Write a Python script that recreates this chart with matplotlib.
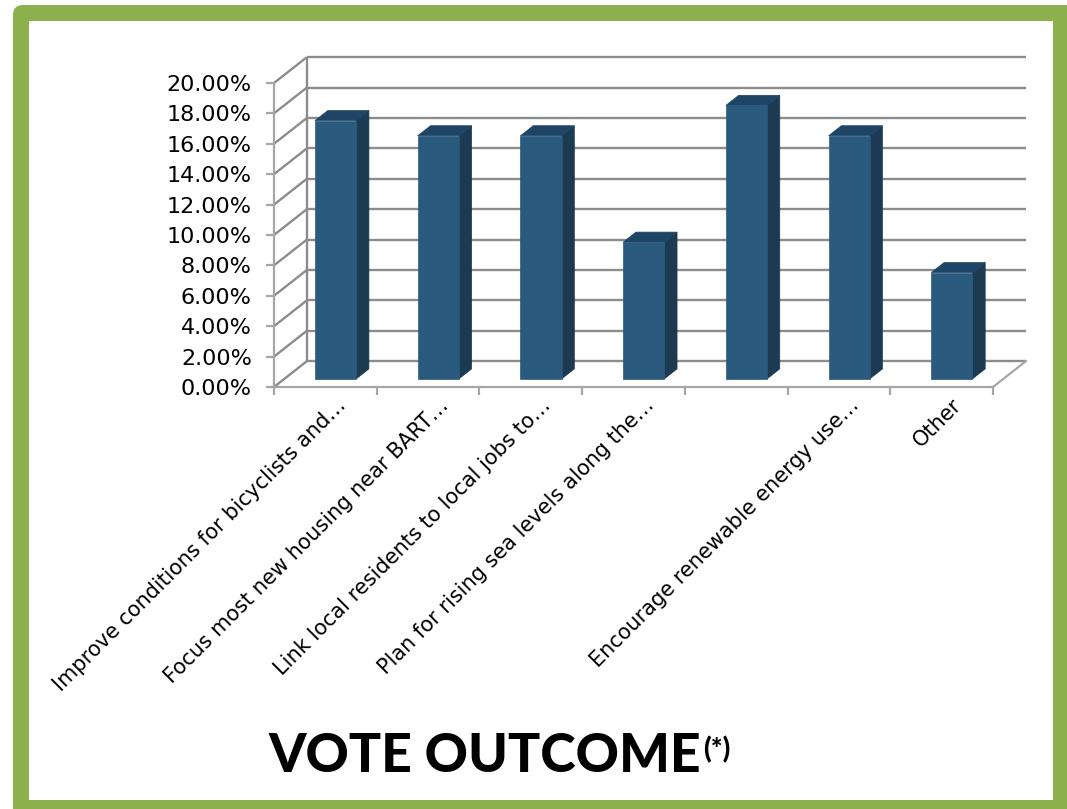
import matplotlib.pyplot as plt
from matplotlib.patches import Polygon, FancyBboxPatch, Rectangle
from matplotlib.transforms import ScaledTranslation, IdentityTransform

# survey results
categories = [
    "Improve conditions for bicyclists and\u2026",
    "Focus most new housing near BART\u2026",
    "Link local residents to local jobs to\u2026",
    "Plan for rising sea levels along the\u2026",
    "",
    "Encourage renewable energy use\u2026",
    "Other",
]
shares = [17, 16, 16, 9, 18, 16, 7]
y_ticks = list(range(0, 21, 2))
y_tick_labels = ["%.2f%%" % v for v in y_ticks]

W, H = 1067, 809
FONT = "DejaVu Sans"
GRID = "#8c8c8c"
AXIS = "#a6a6a6"
FRONT = "#2a5b7e"
SIDE = "#1c3a52"
TOP = "#1f4566"

# oblique depth of the floor, in data units
DX, DY = 0.32, 1.7
Z0, Z1 = 0.31, 0.70
BAR_W = 0.40

fig = plt.figure(figsize=(W / 100, H / 100), dpi=100)

# green frame: rounded green slab with a white panel on top
frame = FancyBboxPatch((13, -30), 1100, H - 5 + 30,
                       boxstyle="round,pad=0,rounding_size=10",
                       transform=IdentityTransform(), facecolor="#8bb04c",
                       edgecolor="none", zorder=-2)
panel = Rectangle((29, 9), 1053 - 29, H - 21 - 9,
                  transform=IdentityTransform(), facecolor="white",
                  edgecolor="none", zorder=-1)
fig.patches.extend([frame, panel])

ax = fig.add_axes([274 / W, (809 - 387) / H, (993 - 274) / W, (387 - 83) / H])
n = len(shares)
ax.set_xlim(0, n)
ax.set_ylim(0, 20)
ax.patch.set_visible(False)


def proj(x, y, z):
    return (x + z * DX, y + z * DY)


line_kw = dict(color=GRID, lw=1.7, clip_on=False, solid_capstyle="butt", zorder=1)
for v in y_ticks:
    # back wall
    ax.plot([DX, n + DX], [v + DY, v + DY], **line_kw)
    # side wall
    ax.plot([0, DX], [v, v + DY], **line_kw)
ax.plot([DX, DX], [DY, 20 + DY], **line_kw)
ax.plot([n, n + DX], [0, DY], color=AXIS, lw=1.6, clip_on=False, zorder=1)

for i, v in enumerate(shares):
    x0 = i + 0.5 - BAR_W / 2
    x1 = x0 + BAR_W
    front = [proj(x0, 0, Z0), proj(x1, 0, Z0), proj(x1, v, Z0), proj(x0, v, Z0)]
    side = [proj(x1, 0, Z0), proj(x1, 0, Z1), proj(x1, v, Z1), proj(x1, v, Z0)]
    top = [proj(x0, v, Z0), proj(x1, v, Z0), proj(x1, v, Z1), proj(x0, v, Z1)]
    for pts, c in [(side, SIDE), (top, TOP), (front, FRONT)]:
        ax.add_patch(Polygon(pts, closed=True, facecolor=c, edgecolor=c,
                             lw=0.5, clip_on=False, zorder=3))

for s in ["top", "right"]:
    ax.spines[s].set_visible(False)
for s in ["left", "bottom"]:
    ax.spines[s].set_color(AXIS)
    ax.spines[s].set_linewidth(1.6)

ax.set_yticks(y_ticks, y_tick_labels)
ax.tick_params(axis="y", length=6, width=1.6, color=AXIS, pad=10,
               labelsize=16, labelcolor="black")
for lab in ax.get_yticklabels():
    lab.set_family(FONT)

centers = [i + 0.5 for i in range(n)]
ax.set_xticks(centers)
ax.set_xticklabels(categories, rotation=45, ha="right", rotation_mode="anchor",
                   fontsize=15, family=FONT)
ax.set_xticks(range(n + 1), minor=True)
ax.tick_params(axis="x", which="major", length=0, pad=6)
ax.tick_params(axis="x", which="minor", length=6, width=1.6, color=AXIS)
shift = ScaledTranslation(0.1, 0, fig.dpi_scale_trans)
for lab in ax.get_xticklabels():
    lab.set_transform(lab.get_transform() + shift)

title = fig.text(485 / W, 1 - 772 / H, "VOTE OUTCOME", ha="center",
                 va="baseline", fontsize=38.5, fontweight="black", family="Lato")
ax.annotate("(*)", xy=(1, 1), xycoords=title, xytext=(1, -3),
            textcoords="offset points", ha="left", va="top",
            fontsize=20, fontweight="black", family="Lato",
            annotation_clip=False)

fig.savefig("out.png", dpi=100)
